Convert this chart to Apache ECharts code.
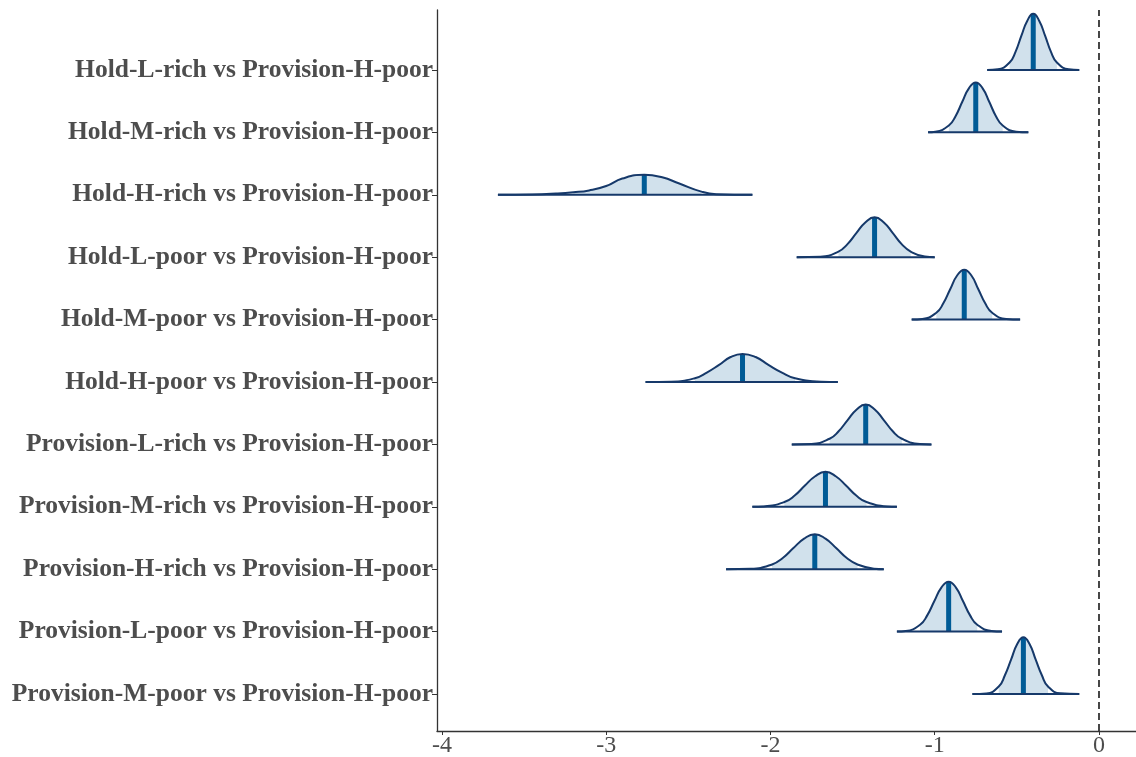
<!DOCTYPE html>
<html>
<head>
<meta charset="utf-8">
<script src="https://cdn.jsdelivr.net/npm/echarts@6/dist/echarts.min.js"></script>
<style>
  html, body { margin: 0; padding: 0; background: #fff; }
  #chart { width: 1136px; height: 757px; }
</style>
</head>
<body>
<div id="chart"></div>
<script>
// row labels, top to bottom
const rowLabels = [
  'Hold-L-rich vs Provision-H-poor',
  'Hold-M-rich vs Provision-H-poor',
  'Hold-H-rich vs Provision-H-poor',
  'Hold-L-poor vs Provision-H-poor',
  'Hold-M-poor vs Provision-H-poor',
  'Hold-H-poor vs Provision-H-poor',
  'Provision-L-rich vs Provision-H-poor',
  'Provision-M-rich vs Provision-H-poor',
  'Provision-H-rich vs Provision-H-poor',
  'Provision-L-poor vs Provision-H-poor',
  'Provision-M-poor vs Provision-H-poor'
]

const xTicks = [-4, -3, -2, -1, 0]

// posterior medians
const medians = [-0.40, -0.75, -2.768, -1.366, -0.82, -2.17, -1.42, -1.665, -1.73, -0.915, -0.46]
// shaded interval bounds
const shadeLo = [-0.544, -0.914, -3.20, -1.586, -0.99, -2.46, -1.64, -1.915, -1.99, -1.089, -0.61]
const shadeHi = [-0.256, -0.586, -2.42, -1.146, -0.65, -1.85, -1.20, -1.415, -1.47, -0.741, -0.31]

// density curves: [x, height in row units]
const holdLRich = [[-0.68, 0], [-0.616, 0.01], [-0.544, 0.12], [-0.508, 0.29], [-0.472, 0.55], [-0.436, 0.79], [-0.40, 0.90], [-0.364, 0.79], [-0.328, 0.55], [-0.292, 0.29], [-0.256, 0.12], [-0.184, 0.01], [-0.12, 0]]
const holdMRich = [[-1.04, 0], [-0.996, 0.01], [-0.914, 0.11], [-0.873, 0.26], [-0.832, 0.49], [-0.791, 0.71], [-0.75, 0.80], [-0.709, 0.71], [-0.668, 0.49], [-0.627, 0.26], [-0.586, 0.11], [-0.504, 0.01], [-0.43, 0]]
const holdHRich = [[-3.659, 0], [-3.45, 0.005], [-3.305, 0.02], [-3.20, 0.04], [-3.104, 0.07], [-3.0, 0.14], [-2.902, 0.26], [-2.768, 0.32], [-2.659, 0.28], [-2.555, 0.18], [-2.42, 0.05], [-2.33, 0.01], [-2.11, 0]]
const holdLPoor = [[-1.84, 0], [-1.696, 0.007], [-1.586, 0.09], [-1.531, 0.21], [-1.476, 0.39], [-1.421, 0.56], [-1.366, 0.64], [-1.311, 0.56], [-1.256, 0.39], [-1.201, 0.21], [-1.146, 0.09], [-1.06, 0.01], [-1.0, 0]]
const holdMPoor = [[-1.14, 0], [-1.075, 0.009], [-0.99, 0.11], [-0.9475, 0.26], [-0.905, 0.49], [-0.8625, 0.71], [-0.82, 0.80], [-0.7775, 0.71], [-0.735, 0.49], [-0.6925, 0.26], [-0.65, 0.11], [-0.565, 0.009], [-0.48, 0]]
const holdHPoor = [[-2.76, 0], [-2.605, 0.005], [-2.46, 0.06], [-2.3875, 0.15], [-2.315, 0.27], [-2.2425, 0.40], [-2.17, 0.45], [-2.09, 0.40], [-2.01, 0.27], [-1.93, 0.15], [-1.85, 0.06], [-1.69, 0.005], [-1.59, 0]]
const provLRich = [[-1.87, 0], [-1.75, 0.007], [-1.64, 0.09], [-1.585, 0.21], [-1.53, 0.39], [-1.475, 0.56], [-1.42, 0.64], [-1.365, 0.56], [-1.31, 0.39], [-1.255, 0.21], [-1.20, 0.09], [-1.09, 0.007], [-1.02, 0]]
const provMRich = [[-2.11, 0], [-2.04, 0.006], [-1.915, 0.076], [-1.8525, 0.18], [-1.79, 0.34], [-1.7275, 0.49], [-1.665, 0.56], [-1.6025, 0.49], [-1.54, 0.34], [-1.4775, 0.18], [-1.415, 0.076], [-1.29, 0.006], [-1.23, 0]]
const provHRich = [[-2.27, 0], [-2.12, 0.006], [-1.99, 0.076], [-1.925, 0.18], [-1.86, 0.34], [-1.795, 0.49], [-1.73, 0.56], [-1.665, 0.49], [-1.60, 0.34], [-1.535, 0.18], [-1.47, 0.076], [-1.37, 0.008], [-1.31, 0]]
const provLPoor = [[-1.23, 0], [-1.176, 0.009], [-1.089, 0.11], [-1.0455, 0.26], [-1.002, 0.49], [-0.9585, 0.71], [-0.915, 0.80], [-0.8715, 0.71], [-0.828, 0.49], [-0.7845, 0.26], [-0.741, 0.11], [-0.654, 0.009], [-0.59, 0]]
const provMPoor = [[-0.77, 0], [-0.685, 0.01], [-0.61, 0.12], [-0.5725, 0.30], [-0.535, 0.55], [-0.4975, 0.80], [-0.46, 0.91], [-0.4225, 0.80], [-0.385, 0.55], [-0.3475, 0.30], [-0.31, 0.12], [-0.235, 0.01], [-0.12, 0]]

const densities = [holdLRich, holdMRich, holdHRich, holdLPoor, holdMPoor, holdHPoor,
  provLRich, provMRich, provHRich, provLPoor, provMPoor]

const nRows = rowLabels.length
const rowPos = rowLabels.map((d, i) => nRows - i)

const series = []
densities.forEach((dens, i) => {
  const base = rowPos[i]
  const pts = dens.map(p => [p[0], base + p[1]])
  const inner = dens.filter(p => p[0] >= shadeLo[i] - 1e-6 && p[0] <= shadeHi[i] + 1e-6)
    .map(p => [p[0], base + p[1]])
  const top = dens.reduce((a, p) => Math.abs(p[0] - medians[i]) < Math.abs(a[0] - medians[i]) ? p : a)
  // shaded interval
  series.push({
    type: 'line', data: inner, smooth: 0.5, symbol: 'none', silent: true,
    lineStyle: {width: 0},
    areaStyle: {color: '#d1e1ec', opacity: 1, origin: base},
    z: 1
  })
  // median line
  series.push({
    type: 'line', data: [[medians[i], base], [medians[i], base + top[1]]], symbol: 'none', silent: true,
    lineStyle: {color: '#005b96', width: 5, cap: 'butt'},
    z: 2
  })
  // outline
  series.push({
    type: 'line', data: pts, smooth: 0.5, symbol: 'none', silent: true,
    lineStyle: {color: '#16396a', width: 2},
    z: 3
  })
  // baseline
  series.push({
    type: 'line', data: [[dens[0][0], base], [dens[dens.length - 1][0], base]], symbol: 'none', silent: true,
    lineStyle: {color: '#16396a', width: 2},
    z: 3
  })
})

// dashed reference line at zero
series.push({
  type: 'line', data: [], silent: true,
  markLine: {
    symbol: 'none', silent: true, label: {show: false},
    lineStyle: {color: '#333', type: [7, 4], width: 1.8},
    data: [{xAxis: 0}]
  }
})

const chart = echarts.init(document.getElementById('chart'))
chart.setOption({
  animation: false,
  grid: {left: 437, right: 0, top: 10, bottom: 26, outerBoundsMode: 'none'},
  xAxis: {
    type: 'value',
    min: -4.03,
    max: 0.2256,
    splitLine: {show: false},
    axisLine: {show: true, onZero: false, lineStyle: {color: '#333', width: 1.3}},
    axisTick: {show: true, customValues: xTicks, length: 4, lineStyle: {color: '#333'}},
    axisLabel: {
      customValues: xTicks,
      formatter: v => String(v),
      color: '#4d4d4d',
      fontFamily: 'Liberation Serif',
      fontSize: 24,
      margin: 3
    }
  },
  yAxis: {
    type: 'value',
    min: 0.407,
    max: 11.961,
    splitLine: {show: false},
    axisLine: {show: true, onZero: false, lineStyle: {color: '#333', width: 1.3}},
    axisTick: {show: true, customValues: rowPos, length: 5, lineStyle: {color: '#333'}},
    axisLabel: {
      customValues: rowPos,
      formatter: v => rowLabels[nRows - v],
      color: '#4d4d4d',
      fontFamily: 'Liberation Serif',
      fontWeight: 'bold',
      fontSize: 25.5,
      margin: 4
    }
  },
  series: series
})
</script>
</body>
</html>
